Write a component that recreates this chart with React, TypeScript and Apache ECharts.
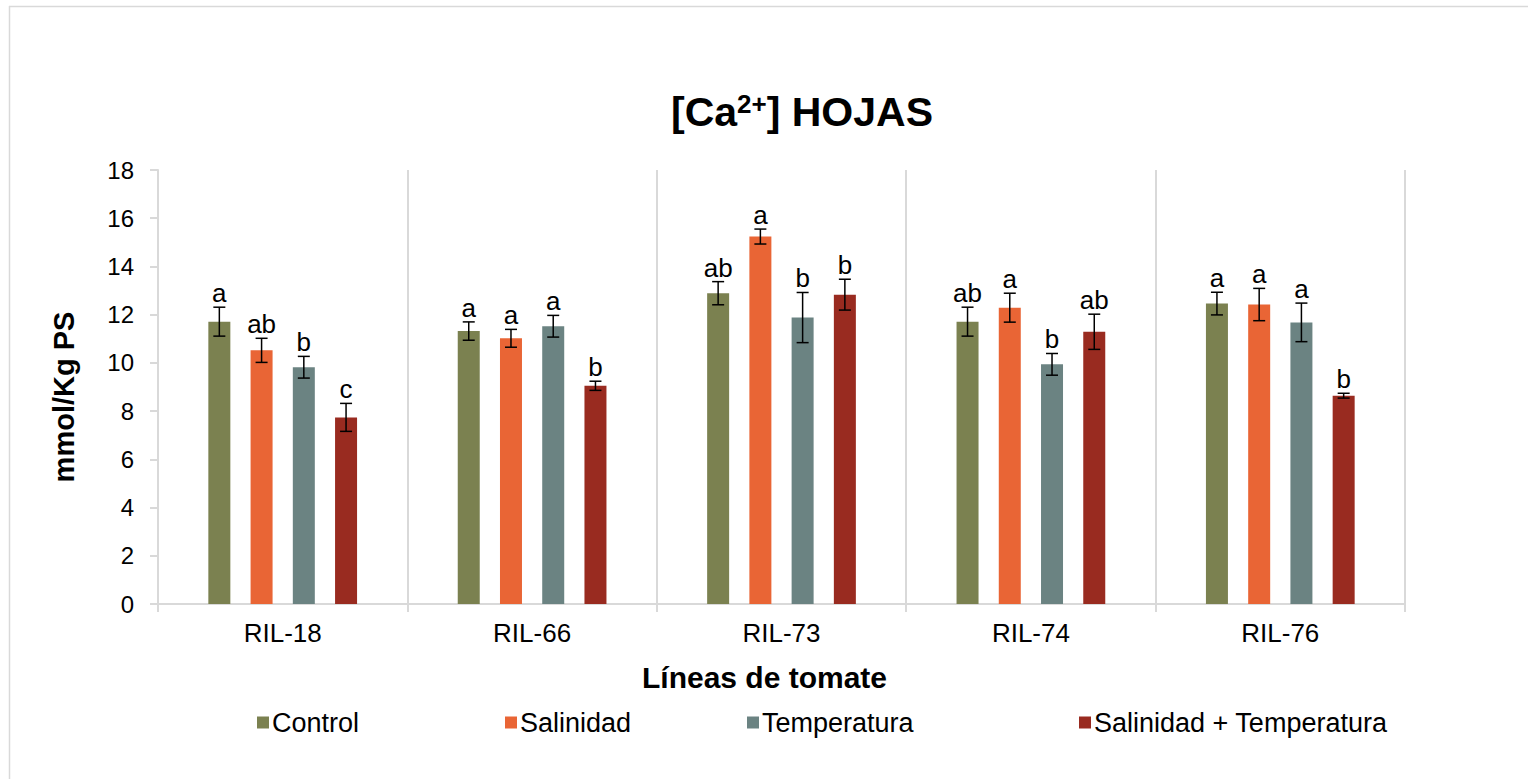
import React, { useEffect, useRef } from "react";
import * as echarts from "echarts";

const categories = ["RIL-18", "RIL-66", "RIL-73", "RIL-74", "RIL-76"];
const seriesNames = ["Control", "Salinidad", "Temperatura", "Salinidad + Temperatura"];
const seriesColors = ["#7b8150", "#e96535", "#6b8382", "#992b20"];

const control = [11.71, 11.32, 12.89, 11.71, 12.46];
const controlErr = [0.6, 0.38, 0.48, 0.6, 0.47];
const controlLetters = ["a", "a", "ab", "ab", "a"];

const salinidad = [10.52, 11.02, 15.24, 12.29, 12.42];
const salinidadErr = [0.5, 0.37, 0.31, 0.6, 0.67];
const salinidadLetters = ["ab", "a", "a", "a", "a"];

const temperatura = [9.82, 11.52, 11.88, 9.94, 11.68];
const temperaturaErr = [0.45, 0.45, 1.04, 0.45, 0.8];
const temperaturaLetters = ["b", "a", "b", "b", "a"];

const salTemp = [7.74, 9.05, 12.83, 11.29, 8.64];
const salTempErr = [0.58, 0.19, 0.64, 0.73, 0.1];
const salTempLetters = ["c", "b", "b", "ab", "b"];

const yTicks = [0, 2, 4, 6, 8, 10, 12, 14, 16, 18];

const values = [control, salinidad, temperatura, salTemp];
const errors = [controlErr, salinidadErr, temperaturaErr, salTempErr];
const letters = [controlLetters, salinidadLetters, temperaturaLetters, salTempLetters];

const FONT = "'Liberation Sans', Arial, sans-serif";
const BAR_W = 22;
const BAR_GAP = 0.92;
const GRAY = "#d9d9d9";

export default function App() {
  const ref = useRef<HTMLDivElement>(null);
  useEffect(() => {
    if (!ref.current) return;
    const chart = echarts.init(ref.current, null, { renderer: "svg" });
    const step = BAR_W * (1 + BAR_GAP);

    const barSeries = seriesNames.map((name, i) => ({
      name,
      type: "bar",
      data: values[i],
      barWidth: BAR_W,
      barGap: `${BAR_GAP * 100}%`,
      itemStyle: { color: seriesColors[i] },
      z: 2,
    }));

    const errSeries = seriesNames.map((name, i) => ({
      name: name + "-err",
      type: "custom",
      z: 5,
      data: values[i].map((v, k) => [k, v, errors[i][k]]),
      renderItem: (params: any, api: any) => {
        const cat = api.value(0);
        const v = api.value(1);
        const e = api.value(2);
        const off = (i - 1.5) * step;
        const top = api.coord([cat, v + e]);
        const bot = api.coord([cat, v - e]);
        const x = top[0] + off;
        const cap = 6;
        const st = { stroke: "#000", lineWidth: 1.5 };
        return {
          type: "group",
          children: [
            { type: "line", shape: { x1: x, y1: top[1], x2: x, y2: bot[1] }, style: st },
            { type: "line", shape: { x1: x - cap, y1: top[1], x2: x + cap, y2: top[1] }, style: st },
            { type: "line", shape: { x1: x - cap, y1: bot[1], x2: x + cap, y2: bot[1] }, style: st },
            {
              type: "text",
              x: x,
              y: top[1] - 1,
              style: {
                text: letters[i][params.dataIndex],
                fill: "#000",
                font: `26px ${FONT}`,
                align: "center",
                verticalAlign: "bottom",
              },
            },
          ],
        };
      },
    }));

    const legendLefts = [252, 500, 742, 1074];
    const legends = seriesNames.map((name, i) => ({
      data: [name],
      left: legendLefts[i],
      top: 704,
      itemWidth: 12,
      itemHeight: 12,
      icon: "rect",
      itemGap: 0,
      textStyle: { fontFamily: FONT, fontSize: 27, color: "#000", padding: [0, 0, 0, -2] },
    }));

    chart.setOption({
      animation: false,
      backgroundColor: "#fff",
      textStyle: { fontFamily: FONT },
      title: {
        text: "{b|[Ca}{s|2+}{b|] HOJAS}",
        left: 797,
        top: 86,
        textAlign: "center",
        textStyle: {
          rich: {
            b: { fontFamily: FONT, fontSize: 41, fontWeight: "bold", color: "#000" },
            s: { fontFamily: FONT, fontSize: 26, fontWeight: "bold", color: "#000", verticalAlign: "top", padding: [0, 0, 13, 0] },
          },
        },
      },
      legend: legends,
      grid: { left: 158, right: 123, top: 170, bottom: 175, containLabel: false },
      xAxis: {
        type: "category",
        data: categories,
        name: "Líneas de tomate",
        nameLocation: "middle",
        nameGap: 58,
        nameTextStyle: { fontFamily: FONT, fontSize: 30, fontWeight: "bold", color: "#000", padding: [0, 34, 0, 0] },
        axisLine: { lineStyle: { color: GRAY, width: 2 } },
        axisTick: { show: true, length: 8, lineStyle: { color: GRAY, width: 2 } },
        splitLine: { show: true, lineStyle: { color: GRAY, width: 2 } },
        axisLabel: { fontFamily: FONT, fontSize: 26, color: "#000", margin: 16 },
      },
      yAxis: {
        type: "value",
        min: 0,
        max: yTicks[yTicks.length - 1],
        interval: yTicks[1] - yTicks[0],
        name: "mmol/Kg PS",
        nameLocation: "middle",
        nameGap: 80,
        nameTextStyle: { fontFamily: FONT, fontSize: 29, fontWeight: "bold", color: "#000", padding: [0, 20, 0, 0] },
        axisLine: { show: true, lineStyle: { color: GRAY, width: 2 } },
        axisTick: { show: true, length: 8, lineStyle: { color: GRAY, width: 2 } },
        splitLine: { show: false },
        axisLabel: { fontFamily: FONT, fontSize: 24, color: "#000", margin: 24 },
      },
      graphic: [
        { type: "line", shape: { x1: 9, y1: 6.5, x2: 1528, y2: 6.5 }, style: { stroke: GRAY, lineWidth: 1.5 } },
        { type: "line", shape: { x1: 9.5, y1: 6, x2: 9.5, y2: 779 }, style: { stroke: GRAY, lineWidth: 1.5 } },
      ],
      series: [...barSeries, ...errSeries],
    });
    return () => chart.dispose();
  }, []);
  return (
    <div
      ref={ref}
      style={{ position: "fixed", left: 0, top: 0, width: 1528, height: 779, background: "#fff" }}
    />
  );
}
